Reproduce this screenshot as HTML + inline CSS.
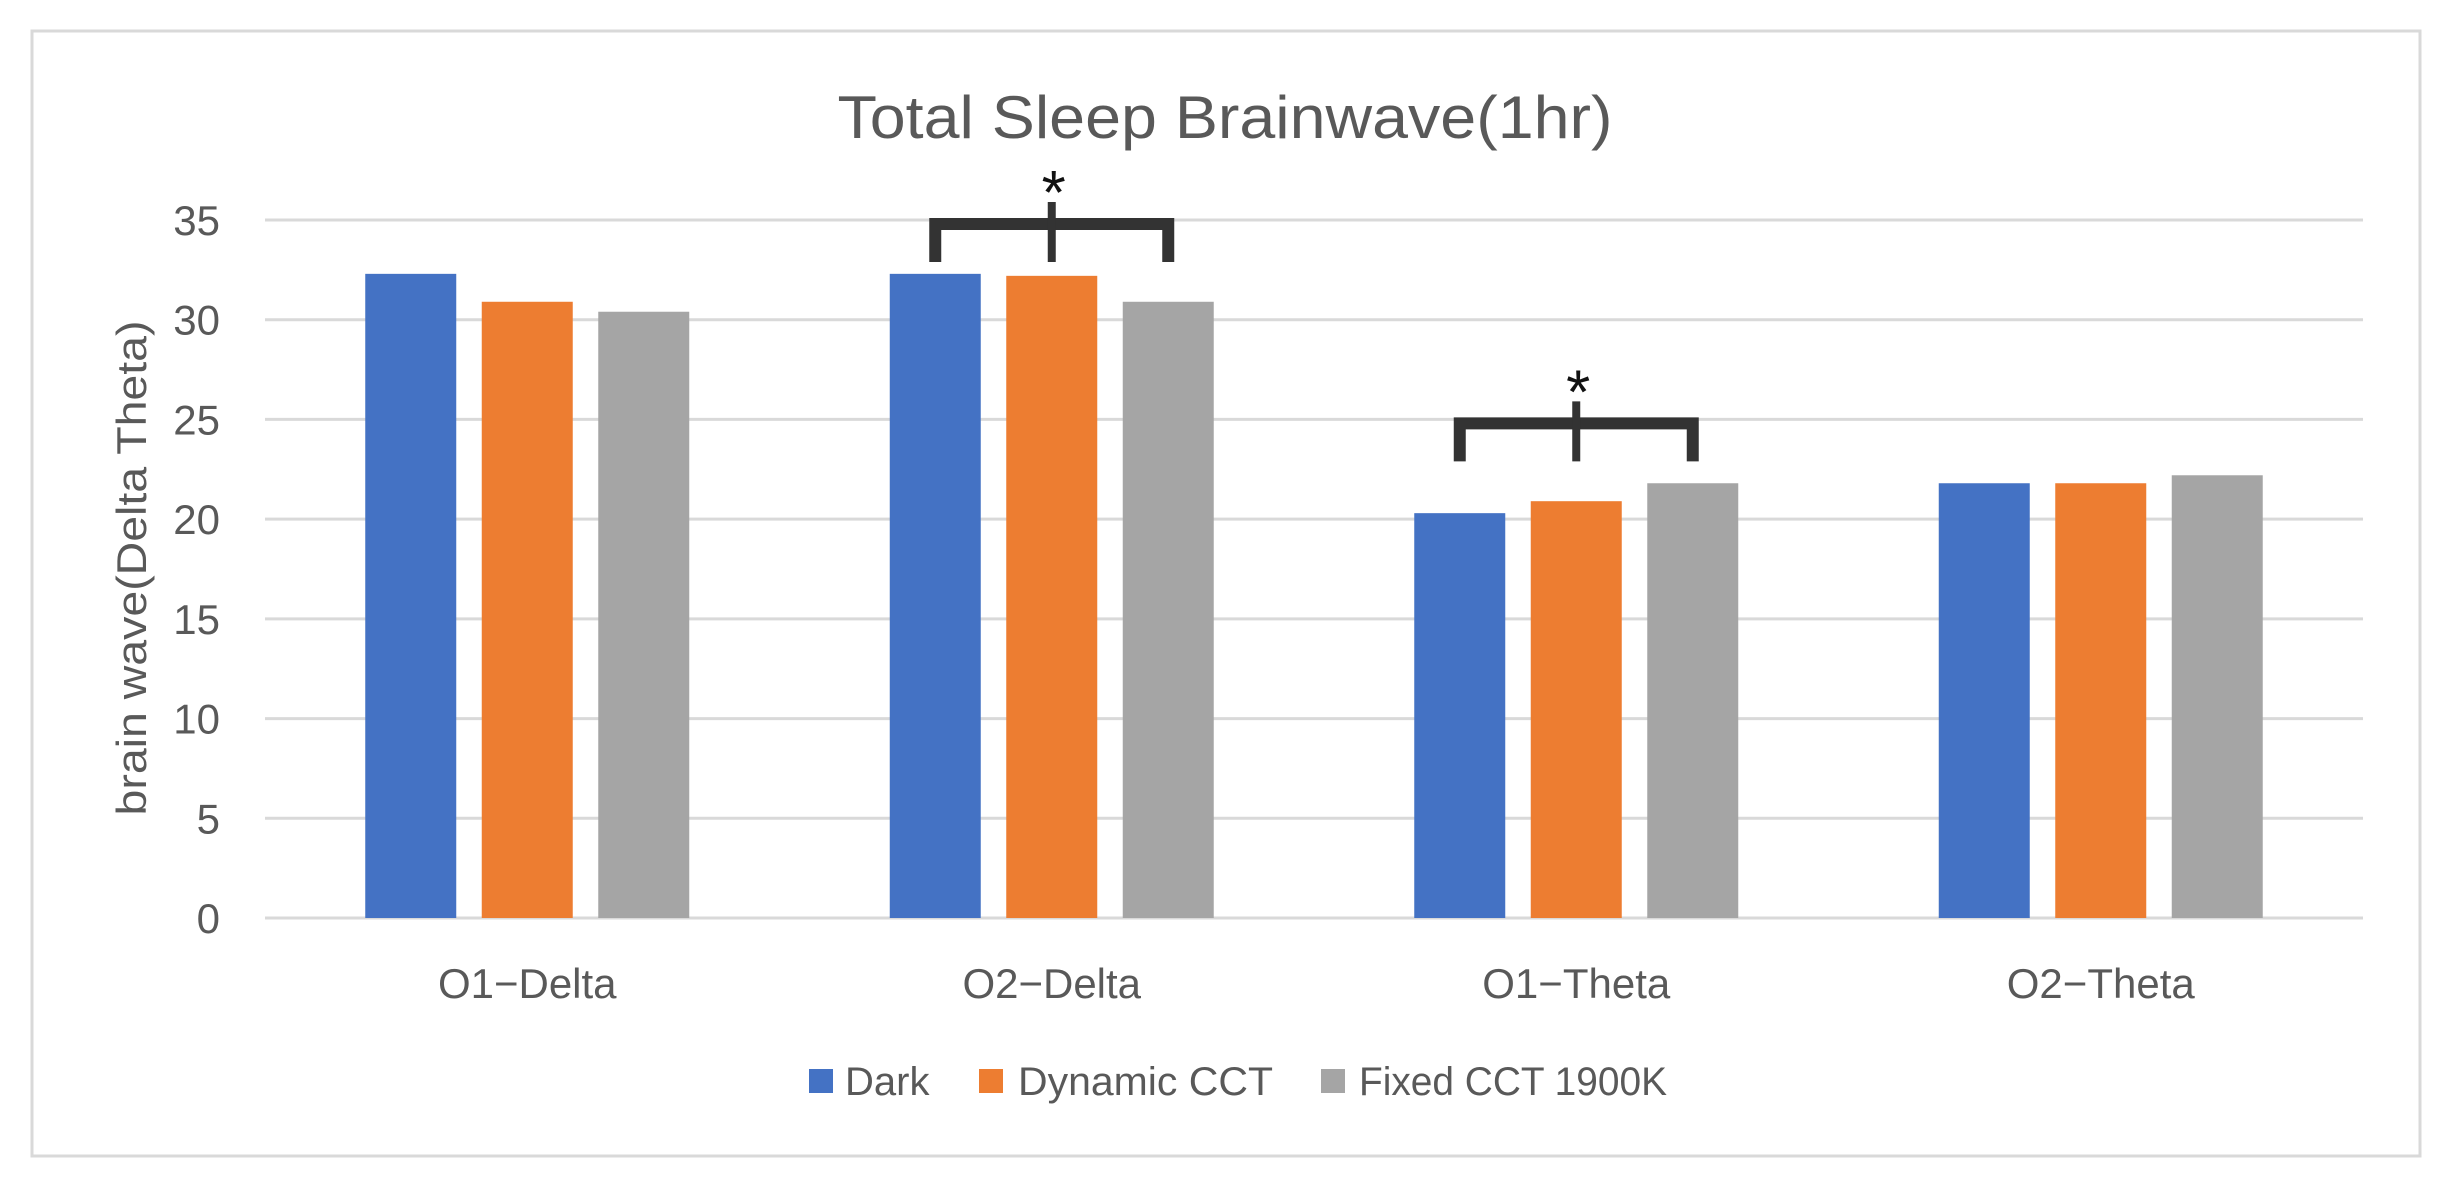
<!DOCTYPE html>
<html><head><meta charset="utf-8"><style>
html,body{margin:0;padding:0;background:#fff;}
svg{display:block;font-family:"Liberation Sans","DejaVu Sans",sans-serif;}
</style></head><body>
<svg id="chart" width="2449" height="1200" viewBox="0 0 2449 1200" xmlns="http://www.w3.org/2000/svg">
<rect x="32" y="31" width="2388" height="1125" fill="#fff" stroke="#d9d9d9" stroke-width="3"/>
<text x="1225" y="138" font-size="60" fill="#595959" text-anchor="middle" textLength="775" lengthAdjust="spacingAndGlyphs">Total Sleep Brainwave(1hr)</text>
<text transform="translate(146,568) rotate(-90)" font-size="42" fill="#595959" text-anchor="middle" textLength="495" lengthAdjust="spacingAndGlyphs">brain wave(Delta Theta)</text>
<g id="grid"></g><g id="bars"></g><g id="xlabels"></g><g id="sig"></g>
<g>
<rect x="809" y="1069" width="24" height="24" fill="#4472c4"/>
<text x="845" y="1095" font-size="40" fill="#595959">Dark</text>
<rect x="979" y="1069" width="24" height="24" fill="#ed7d31"/>
<text x="1018" y="1095" font-size="40" fill="#595959" textLength="255" lengthAdjust="spacingAndGlyphs">Dynamic CCT</text>
<rect x="1321" y="1069" width="24" height="24" fill="#a5a5a5"/>
<text x="1359" y="1095" font-size="40" fill="#595959" textLength="308" lengthAdjust="spacingAndGlyphs">Fixed CCT 1900K</text>
</g>
</svg>
<script>
const categories = ["O1\u2212Delta","O2\u2212Delta","O1\u2212Theta","O2\u2212Theta"];
const seriesNames = ["Dark","Dynamic CCT","Fixed CCT 1900K"];
const dark = [32.3, 32.3, 20.3, 21.8];
const dynamicCCT = [30.9, 32.2, 20.9, 21.8];
const fixedCCT = [30.4, 30.9, 21.8, 22.2];
const yTicks = [0,5,10,15,20,25,30,35];
const sigGroups = [1, 2];
const sigLevels = [35, 25];

const NS = "http://www.w3.org/2000/svg";
const plotL = 265, plotR = 2363, y0 = 918, yTop = 220, yMax = 35;
const colors = ["#4472c4","#ed7d31","#a5a5a5"];
const series = [dark, dynamicCCT, fixedCCT];
const catW = (plotR - plotL) / categories.length;
const barW = 91, barStep = 116.5;
function yScale(v){ return y0 - (v / yMax) * (y0 - yTop); }
function xCenter(i){ return plotL + catW * (i + 0.5); }
function barX(i, s){ return xCenter(i) + (s - 1) * barStep - barW / 2; }
function mk(tag, attrs, parent){ const e = document.createElementNS(NS, tag); for (const k in attrs) e.setAttribute(k, attrs[k]); parent.appendChild(e); return e; }

const grid = document.getElementById('grid');
yTicks.forEach(t => {
  const y = yScale(t);
  const l = mk('line', {x1: plotL, x2: plotR, y1: y, y2: y, stroke: '#d9d9d9', 'stroke-width': 3}, grid);
  
  
  const tx = mk('text', {x: 220, y: y + 15, 'font-size': 42, fill: '#595959', 'text-anchor': 'end'}, grid);
  tx.textContent = t;
  
  
});

const bars = document.getElementById('bars');
series.forEach((vals, s) => {
  vals.forEach((v, i) => {
    const y = yScale(v);
    const r = mk('rect', {x: barX(i, s), y: y, width: barW, height: y0 - y, fill: colors[s]}, bars);
    
    
  });
});

const xl = document.getElementById('xlabels');
categories.forEach((c, i) => {
  const t = mk('text', {x: xCenter(i), y: 998, 'font-size': 42, fill: '#595959', 'text-anchor': 'middle'}, xl);
  t.textContent = c;
  
  
});

const sig = document.getElementById('sig');
sigGroups.forEach((i, k) => {
  const top = yScale(sigLevels[k]) + 4;
  const lx = barX(i, 0) + barW / 2, rx = barX(i, 2) + barW / 2, cx = xCenter(i);
  const g = mk('g', {fill: 'none', stroke: '#333', 'stroke-width': 12}, sig);
  
  
  mk('path', {d: `M${lx},${top + 38} V${top} H${rx} V${top + 38}`}, g);
  mk('line', {x1: cx, x2: cx, y1: top - 22, y2: top + 38, 'stroke-width': 8}, g);
  const st = mk('text', {x: cx + 2, y: top - 10, 'font-size': 62, fill: '#111', 'text-anchor': 'middle'}, sig);
  st.textContent = '*';
  
  
});
</script>
</body></html>
